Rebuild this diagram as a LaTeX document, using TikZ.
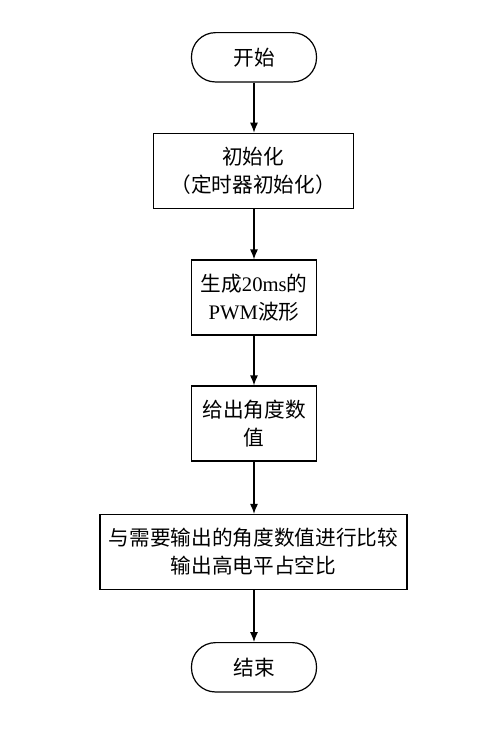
\documentclass[tikz,border=0pt]{standalone}
\usepackage{fontspec}
\setmainfont{Liberation Serif}
\newfontfamily\cjk{Noto Sans CJK SC}
\usetikzlibrary{arrows.meta}
\tikzset{
  flowbox/.style={draw,line width=0.9pt,inner sep=0pt,align=center,
    font=\cjk\fontsize{15.5}{21}\selectfont},
  termbox/.style={flowbox,rounded corners=18pt,minimum width=93.75pt,minimum height=37pt},
  flowline/.style={line width=0.9pt,-{Latex[length=7.5pt,width=6pt]}}
}
\begin{document}
\begin{tikzpicture}[x=0.75pt,y=-0.75pt]
   \useasboundingbox (0,0) rectangle (502,729);
   \node[termbox] (start) at (254,57.3) {开始};
   \node[flowbox,minimum width=150pt,minimum height=56.25pt] (init) at (253.3,170.8)
     {初始化\\（定时器初始化）};
   \node[flowbox,minimum width=93.75pt,minimum height=56.25pt] (pwm) at (254,297.5)
     {生成{\rmfamily 20ms}的\\{\rmfamily PWM}波形};
   \node[flowbox,minimum width=93.75pt,minimum height=56.25pt] (angle) at (254,423.5)
     {给出角度数\\值};
   \node[flowbox,minimum width=230.25pt,minimum height=56.25pt] (cmp) at (253.5,552)
     {与需要输出的角度数值进行比较\\输出高电平占空比};
   \node[termbox] (stop) at (254,667.3) {结束};
   \draw[flowline] (start) -- (start |- init.north);
   \draw[flowline] (init.south -| pwm) -- (pwm);
   \draw[flowline] (pwm) -- (angle);
   \draw[flowline] (angle) -- (angle |- cmp.north);
   \draw[flowline] (cmp.south -| stop) -- (stop);
  \end{tikzpicture}
\end{document}
